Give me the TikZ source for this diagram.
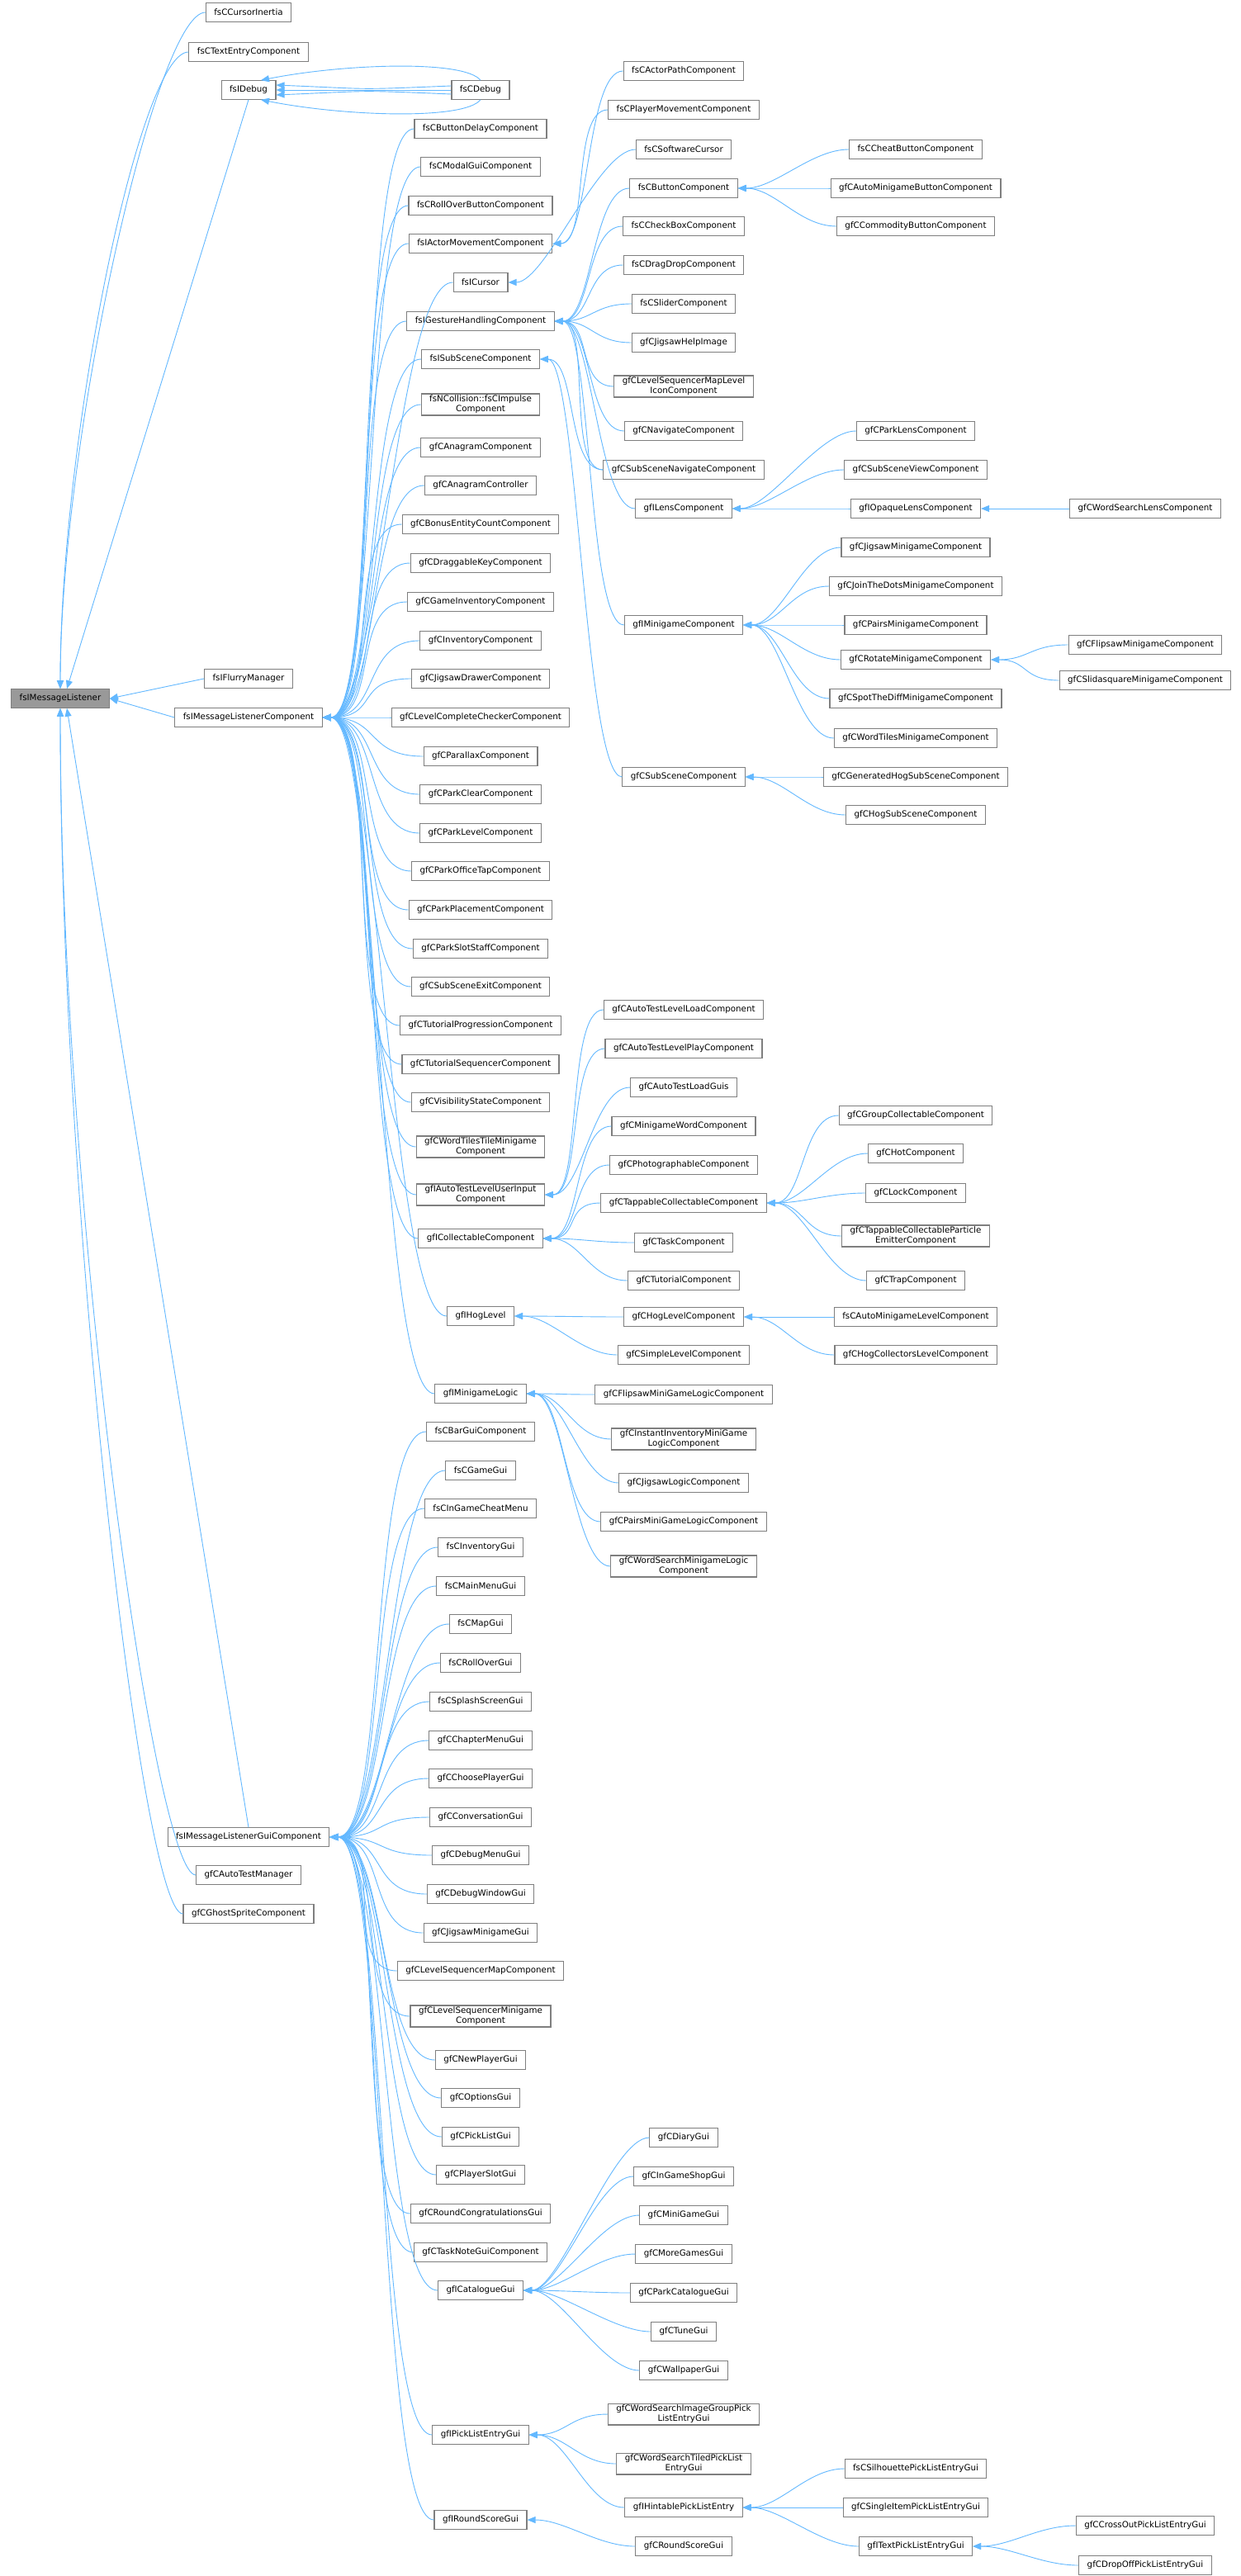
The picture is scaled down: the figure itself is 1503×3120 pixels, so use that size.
\documentclass[tikz,border=0pt]{standalone}
\usepackage{fontspec}
\setmainfont{DejaVu Sans}
\usetikzlibrary{arrows.meta,positioning}
\definecolor{edgeblue}{HTML}{63B8FF}
\definecolor{boxline}{HTML}{7F7F7F}
\definecolor{rootfill}{HTML}{999999}
\begin{document}
\begin{tikzpicture}[x=1pt,y=-1pt]

\tikzset{cls/.style={draw=boxline,line width=1.1pt,fill=white,inner xsep=10pt,inner ysep=2pt,minimum height=22.5pt,align=center,font=\fontsize{10.3}{12}\selectfont}};
\tikzset{root/.style={cls,fill=rootfill}};
\tikzset{edge/.style={draw=edgeblue,line width=0.9pt,-{Triangle[length=10pt,width=8pt]}}};
\tikzset{fan/.style={to path={.. controls +(-#1,0) and +(#1,0) .. (\tikztotarget)}}, fan/.default=45};

\useasboundingbox (0,0) rectangle (1503,3120);

% root and second column
\node[root] (listener) at (73,846) {fsIMessageListener};
\node[cls] (cinertia) at (301,15) {fsCCursorInertia};
\node[cls] (textentry) at (301,63) {fsCTextEntryComponent};
\node[cls] (idebug) at (301,109) {fsIDebug};
\node[cls] (flurry) at (301,822) {fsIFlurryManager};
\node[cls] (mlcomp) at (301,869) {fsIMessageListenerComponent};
\node[cls] (mlgui) at (301,2225) {fsIMessageListenerGuiComponent};
\node[cls] (atmanager) at (301,2271) {gfCAutoTestManager};
\node[cls] (ghost) at (301,2318) {gfCGhostSpriteComponent};

% third column
\node[cls] (fscdebug) at (582,109) {fsCDebug};
\node[cls] (bdelay) at (582,156) {fsCButtonDelayComponent};
\node[cls] (modal) at (582,202) {fsCModalGuiComponent};
\node[cls] (rollbtn) at (582,249) {fsCRollOverButtonComponent};
\node[cls] (actmove) at (582,295) {fsIActorMovementComponent};
\node[cls] (cursor) at (582,342) {fsICursor};
\node[cls] (gesture) at (582,389) {fsIGestureHandlingComponent};
\node[cls] (subscene) at (582,435) {fsISubSceneComponent};
\node[cls] (impulse) at (582,490) {fsNCollision::fsCImpulse\\Component};
\node[cls] (anagram) at (582,542) {gfCAnagramComponent};
\node[cls] (anactl) at (582,588) {gfCAnagramController};
\node[cls] (bonus) at (582,635) {gfCBonusEntityCountComponent};
\node[cls] (dragkey) at (582,682) {gfCDraggableKeyComponent};
\node[cls] (gameinv) at (582,729) {gfCGameInventoryComponent};
\node[cls] (inv) at (582,776) {gfCInventoryComponent};
\node[cls] (jigdraw) at (582,822) {gfCJigsawDrawerComponent};
\node[cls] (lvlcheck) at (582,869) {gfCLevelCompleteCheckerComponent};
\node[cls] (parallax) at (582,916) {gfCParallaxComponent};
\node[cls] (pclear) at (582,962) {gfCParkClearComponent};
\node[cls] (plevel) at (582,1009) {gfCParkLevelComponent};
\node[cls] (poffice) at (582,1055) {gfCParkOfficeTapComponent};
\node[cls] (pplace) at (582,1102) {gfCParkPlacementComponent};
\node[cls] (pslot) at (582,1149) {gfCParkSlotStaffComponent};
\node[cls] (ssexit) at (582,1195) {gfCSubSceneExitComponent};
\node[cls] (tutprog) at (582,1242) {gfCTutorialProgressionComponent};
\node[cls] (tutseq) at (582,1289) {gfCTutorialSequencerComponent};
\node[cls] (visib) at (582,1335) {gfCVisibilityStateComponent};
\node[cls] (wttile) at (582,1389) {gfCWordTilesTileMinigame\\Component};
\node[cls] (atinput) at (582,1447) {gfIAutoTestLevelUserInput\\Component};
\node[cls] (collect) at (582,1500) {gfICollectableComponent};
\node[cls] (hoglvl) at (582,1594) {gfIHogLevel};
\node[cls] (mglogic) at (582,1688) {gfIMinigameLogic};
\node[cls] (bargui) at (582,1734) {fsCBarGuiComponent};
\node[cls] (gamegui) at (582,1781) {fsCGameGui};
\node[cls] (cheat) at (582,1827) {fsCInGameCheatMenu};
\node[cls] (invgui) at (582,1874) {fsCInventoryGui};
\node[cls] (mainmenu) at (582,1921) {fsCMainMenuGui};
\node[cls] (mapgui) at (582,1967) {fsCMapGui};
\node[cls] (rollgui) at (582,2014) {fsCRollOverGui};
\node[cls] (splash) at (582,2061) {fsCSplashScreenGui};
\node[cls] (chapter) at (582,2108) {gfCChapterMenuGui};
\node[cls] (choose) at (582,2154) {gfCChoosePlayerGui};
\node[cls] (convo) at (582,2201) {gfCConversationGui};
\node[cls] (dbgmenu) at (582,2247) {gfCDebugMenuGui};
\node[cls] (dbgwin) at (582,2294) {gfCDebugWindowGui};
\node[cls] (jiggui) at (582,2341) {gfCJigsawMinigameGui};
\node[cls] (lsmap) at (582,2387) {gfCLevelSequencerMapComponent};
\node[cls] (lsmini) at (582,2442) {gfCLevelSequencerMinigame\\Component};
\node[cls] (newplayer) at (582,2495) {gfCNewPlayerGui};
\node[cls] (options) at (582,2541) {gfCOptionsGui};
\node[cls] (picklist) at (582,2588) {gfCPickListGui};
\node[cls] (pslotgui) at (582,2634) {gfCPlayerSlotGui};
\node[cls] (congrats) at (582,2681) {gfCRoundCongratulationsGui};
\node[cls] (tasknote) at (582,2728) {gfCTaskNoteGuiComponent};
\node[cls] (catalog) at (582,2774) {gfICatalogueGui};
\node[cls] (pickentry) at (582,2949) {gfIPickListEntryGui};
\node[cls] (rscore) at (582,3052) {gfIRoundScoreGui};

% fourth column
\node[cls] (actorpath) at (828,86) {fsCActorPathComponent};
\node[cls] (playermove) at (828,133) {fsCPlayerMovementComponent};
\node[cls] (swcursor) at (828,181) {fsCSoftwareCursor};
\node[cls] (button) at (828,228) {fsCButtonComponent};
\node[cls] (checkbox) at (828,274) {fsCCheckBoxComponent};
\node[cls] (dragdrop) at (828,321) {fsCDragDropComponent};
\node[cls] (slider) at (828,368) {fsCSliderComponent};
\node[cls] (jighelp) at (828,415) {gfCJigsawHelpImage};
\node[cls] (lsicon) at (828,468) {gfCLevelSequencerMapLevel\\IconComponent};
\node[cls] (navigate) at (828,522) {gfCNavigateComponent};
\node[cls] (ssnav) at (828,569) {gfCSubSceneNavigateComponent};
\node[cls] (lens) at (828,616) {gfILensComponent};
\node[cls] (minigame) at (828,757) {gfIMinigameComponent};
\node[cls] (subscenec) at (828,941) {gfCSubSceneComponent};
\node[cls] (atload) at (828,1223) {gfCAutoTestLevelLoadComponent};
\node[cls] (atplay) at (828,1270) {gfCAutoTestLevelPlayComponent};
\node[cls] (atguis) at (828,1317) {gfCAutoTestLoadGuis};
\node[cls] (mgword) at (828,1364) {gfCMinigameWordComponent};
\node[cls] (photo) at (828,1411) {gfCPhotographableComponent};
\node[cls] (tappable) at (828,1457) {gfCTappableCollectableComponent};
\node[cls] (task) at (828,1505) {gfCTaskComponent};
\node[cls] (tutorial) at (828,1551) {gfCTutorialComponent};
\node[cls] (hogcomp) at (828,1595) {gfCHogLevelComponent};
\node[cls] (simple) at (828,1641) {gfCSimpleLevelComponent};
\node[cls] (flipslogic) at (828,1689) {gfCFlipsawMiniGameLogicComponent};
\node[cls] (instinv) at (828,1743) {gfCInstantInventoryMiniGame\\LogicComponent};
\node[cls] (jiglogic) at (828,1796) {gfCJigsawLogicComponent};
\node[cls] (pairslogic) at (828,1843) {gfCPairsMiniGameLogicComponent};
\node[cls] (wslogic) at (828,1897) {gfCWordSearchMinigameLogic\\Component};
\node[cls] (diary) at (828,2589) {gfCDiaryGui};
\node[cls] (shop) at (828,2636) {gfCInGameShopGui};
\node[cls] (minigui) at (828,2683) {gfCMiniGameGui};
\node[cls] (moregames) at (828,2730) {gfCMoreGamesGui};
\node[cls] (parkcat) at (828,2777) {gfCParkCatalogueGui};
\node[cls] (tune) at (828,2824) {gfCTuneGui};
\node[cls] (wallpaper) at (828,2871) {gfCWallpaperGui};
\node[cls] (wsimage) at (828,2924) {gfCWordSearchImageGroupPick\\ListEntryGui};
\node[cls] (wstiled) at (828,2984) {gfCWordSearchTiledPickList\\EntryGui};
\node[cls] (hintable) at (828,3037) {gfIHintablePickListEntry};
\node[cls] (rscoregui) at (828,3084) {gfCRoundScoreGui};

% fifth column
\node[cls] (cheatbtn) at (1109,181) {fsCCheatButtonComponent};
\node[cls] (autobtn) at (1109,228) {gfCAutoMinigameButtonComponent};
\node[cls] (commodity) at (1109,274) {gfCCommodityButtonComponent};
\node[cls] (parklens) at (1109,522) {gfCParkLensComponent};
\node[cls] (ssview) at (1109,569) {gfCSubSceneViewComponent};
\node[cls] (opaque) at (1109,616) {gfIOpaqueLensComponent};
\node[cls] (jigmini) at (1109,663) {gfCJigsawMinigameComponent};
\node[cls] (dots) at (1109,710) {gfCJoinTheDotsMinigameComponent};
\node[cls] (pairs) at (1109,757) {gfCPairsMinigameComponent};
\node[cls] (rotate) at (1109,799) {gfCRotateMinigameComponent};
\node[cls] (spot) at (1109,846) {gfCSpotTheDiffMinigameComponent};
\node[cls] (wtmini) at (1109,894) {gfCWordTilesMinigameComponent};
\node[cls] (genhog) at (1109,941) {gfCGeneratedHogSubSceneComponent};
\node[cls] (hogsub) at (1109,987) {gfCHogSubSceneComponent};
\node[cls] (group) at (1109,1351) {gfCGroupCollectableComponent};
\node[cls] (hot) at (1109,1397) {gfCHotComponent};
\node[cls] (lock) at (1109,1445) {gfCLockComponent};
\node[cls] (particle) at (1109,1497) {gfCTappableCollectableParticle\\EmitterComponent};
\node[cls] (trap) at (1109,1551) {gfCTrapComponent};
\node[cls] (automglvl) at (1109,1595) {fsCAutoMinigameLevelComponent};
\node[cls] (hogcoll) at (1109,1641) {gfCHogCollectorsLevelComponent};
\node[cls] (silhouette) at (1109,2990) {fsCSilhouettePickListEntryGui};
\node[cls] (single) at (1109,3037) {gfCSingleItemPickListEntryGui};
\node[cls] (textpick) at (1109,3084) {gfITextPickListEntryGui};

% sixth column
\node[cls] (wslens) at (1387,616) {gfCWordSearchLensComponent};
\node[cls] (flipsaw) at (1387,781) {gfCFlipsawMinigameComponent};
\node[cls] (slida) at (1387,824) {gfCSlidasquareMinigameComponent};
\node[cls] (crossout) at (1387,3059) {gfCCrossOutPickListEntryGui};
\node[cls] (dropoff) at (1387,3107) {gfCDropOffPickListEntryGui};

% edges to the root
\foreach \c in {cinertia,textentry}
  \draw[edge] (\c.west) .. controls +(-60,0) and +(0,-300) .. (listener.north);
\draw[edge] (idebug.south) -- ([xshift=8]listener.north);
\foreach \c in {flurry,mlcomp}
  \draw[edge] (\c.west) -- (listener.east);
\draw[edge] (mlgui.north) -- ([xshift=8]listener.south);
\foreach \c in {atmanager,ghost}
  \draw[edge] (\c.west) .. controls +(-50,0) and +(0,600) .. (listener.south);

% fsCDebug, drawn five times
\draw[edge] (fscdebug.west) -- (idebug.east);
\draw[edge] ([yshift=-5]fscdebug.west) .. controls +(-120,-5) and +(120,-5) .. ([yshift=-6]idebug.east);
\draw[edge] ([yshift=5]fscdebug.west) .. controls +(-120,5) and +(120,5) .. ([yshift=6]idebug.east);
\draw[edge] (fscdebug.north) .. controls +(-20,-25) and +(100,-20) .. ([xshift=15]idebug.north);
\draw[edge] (fscdebug.south) .. controls +(-20,25) and +(100,20) .. ([xshift=15]idebug.south);

% fans
\foreach \c in {bdelay,modal,rollbtn,actmove,cursor,gesture,subscene,impulse,anagram,anactl,bonus,dragkey,gameinv,inv,jigdraw,lvlcheck,parallax,pclear,plevel,poffice,pplace,pslot,ssexit,tutprog,tutseq,visib,wttile,atinput,collect,hoglvl,mglogic}
  \draw[edge] (\c.west) to[fan=70] (mlcomp.east);
\foreach \c in {bargui,gamegui,cheat,invgui,mainmenu,mapgui,rollgui,splash,chapter,choose,convo,dbgmenu,dbgwin,jiggui,lsmap,lsmini,newplayer,options,picklist,pslotgui,congrats,tasknote,catalog,pickentry,rscore}
  \draw[edge] (\c.west) to[fan=70] (mlgui.east);
\foreach \c in {actorpath,playermove}
  \draw[edge] (\c.west) to[fan] (actmove.east);
\draw[edge] (swcursor.west) to[fan] (cursor.east);
\foreach \c in {button,checkbox,dragdrop,slider,jighelp,lsicon,navigate,ssnav,lens,minigame}
  \draw[edge] (\c.west) to[fan] (gesture.east);
\foreach \c in {ssnav,subscenec}
  \draw[edge] (\c.west) to[fan] (subscene.east);
\foreach \c in {atload,atplay,atguis}
  \draw[edge] (\c.west) to[fan] (atinput.east);
\foreach \c in {mgword,photo,tappable,task,tutorial}
  \draw[edge] (\c.west) to[fan] (collect.east);
\foreach \c in {hogcomp,simple}
  \draw[edge] (\c.west) to[fan] (hoglvl.east);
\foreach \c in {flipslogic,instinv,jiglogic,pairslogic,wslogic}
  \draw[edge] (\c.west) to[fan] (mglogic.east);
\foreach \c in {diary,shop,minigui,moregames,parkcat,tune,wallpaper}
  \draw[edge] (\c.west) to[fan] (catalog.east);
\foreach \c in {wsimage,wstiled,hintable}
  \draw[edge] (\c.west) to[fan] (pickentry.east);
\draw[edge] (rscoregui.west) to[fan] (rscore.east);

% right side
\foreach \c in {cheatbtn,autobtn,commodity}
  \draw[edge] (\c.west) to[fan] (button.east);
\foreach \c in {parklens,ssview,opaque}
  \draw[edge] (\c.west) to[fan] (lens.east);
\draw[edge] (wslens.west) -- (opaque.east);
\foreach \c in {jigmini,dots,pairs,rotate,spot,wtmini}
  \draw[edge] (\c.west) to[fan] (minigame.east);
\foreach \c in {flipsaw,slida}
  \draw[edge] (\c.west) to[fan] (rotate.east);
\foreach \c in {genhog,hogsub}
  \draw[edge] (\c.west) to[fan] (subscenec.east);
\foreach \c in {group,hot,lock,particle,trap}
  \draw[edge] (\c.west) to[fan] (tappable.east);
\foreach \c in {automglvl,hogcoll}
  \draw[edge] (\c.west) to[fan] (hogcomp.east);
\foreach \c in {silhouette,single,textpick}
  \draw[edge] (\c.west) to[fan] (hintable.east);
\foreach \c in {crossout,dropoff}
  \draw[edge] (\c.west) to[fan] (textpick.east);

\end{tikzpicture}
\end{document}
